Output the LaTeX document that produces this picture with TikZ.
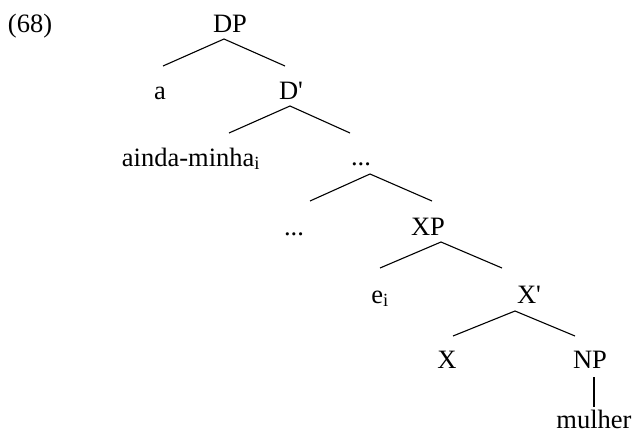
\documentclass[tikz,border=0pt]{standalone}
\usepackage{fontspec}
\setmainfont{Liberation Serif}[Ligatures=TeXOff]
\usetikzlibrary{calc}
\tikzset{
  lbl/.style={anchor=base, inner sep=0pt, text height=18pt, text depth=6pt,
    font=\fontsize{26.5}{30}\selectfont},
  br/.style={line width=1.1pt}
}
\begin{document}
\begin{tikzpicture}[x=1pt,y=-1pt]
\useasboundingbox (0,0) rectangle (632,439);
\node[lbl] (num) at (30,32) {(68)};
\node[lbl] (DP) at (230,32) {DP};
\node[lbl] (a) at (160,99) {a};
\node[lbl] (Db) at (291,99) {D'};
\node[lbl] (ainda) at (191,166) {ainda-minha\textsubscript{i}};
\node[lbl] (d1) at (361,165) {...};
\node[lbl] (d2) at (294,235) {...};
\node[lbl] (XP) at (428,235) {XP};
\node[lbl] (e) at (380,303) {e\textsubscript{i}};
\node[lbl] (Xb) at (529,303) {X'};
\node[lbl] (X) at (447,368) {X};
\node[lbl] (NP) at (590,368) {NP};
\node[lbl] (mulher) at (594,428) {mulher};
% branches
\draw[br] ($(DP.base)+(-6,7)$) -- ($(a.base)+(3,-33)$);
\draw[br] ($(DP.base)+(-6,7)$) -- ($(Db.base)+(-6,-33)$);
\draw[br] ($(Db.base)+(-1,7)$) -- ($(ainda.base)+(38,-33)$);
\draw[br] ($(Db.base)+(-1,7)$) -- ($(d1.base)+(-11,-32)$);
\draw[br] ($(d1.base)+(9,9)$) -- ($(d2.base)+(16,-34)$);
\draw[br] ($(d1.base)+(9,9)$) -- ($(XP.base)+(4,-34)$);
\draw[br] ($(XP.base)+(13,7)$) -- ($(e.base)+(0,-35)$);
\draw[br] ($(XP.base)+(13,7)$) -- ($(Xb.base)+(-27,-35)$);
\draw[br] ($(Xb.base)+(-14,8)$) -- ($(X.base)+(6,-32)$);
\draw[br] ($(Xb.base)+(-14,8)$) -- ($(NP.base)+(-15,-32)$);
\draw[br] ($(NP.base)+(4,9)$) -- ($(mulher.base)+(0,-21)$);
\end{tikzpicture}
\end{document}
